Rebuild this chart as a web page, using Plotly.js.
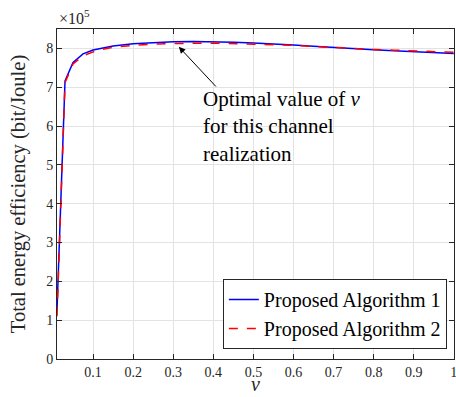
<!DOCTYPE html>
<html>
<head>
<meta charset="utf-8">
<script src="https://cdn.plot.ly/plotly-3.0.1.min.js"></script>
<style>html,body{margin:0;padding:0;background:#fff;}#chart{width:456px;height:397px;}</style>
</head>
<body>
<div id="chart"></div>
<script>
const nu = [0.01, 0.03, 0.05, 0.075, 0.1, 0.125, 0.15, 0.2, 0.25, 0.3, 0.35, 0.4, 0.45, 0.5, 0.55, 0.6, 0.65, 0.7, 0.75, 0.8, 0.85, 0.9, 0.95, 1.0];
const alg1 = [1.25e5, 7.16e5, 7.64e5, 7.86e5, 7.96e5, 8.02e5, 8.06e5, 8.12e5, 8.15e5, 8.17e5, 8.175e5, 8.17e5, 8.16e5, 8.14e5, 8.12e5, 8.09e5, 8.055e5, 8.02e5, 7.99e5, 7.965e5, 7.94e5, 7.92e5, 7.895e5, 7.87e5];
const alg2 = [1.1e5, 7.12e5, 7.6e5, 7.81e5, 7.91e5, 7.98e5, 8.03e5, 8.08e5, 8.11e5, 8.13e5, 8.135e5, 8.135e5, 8.125e5, 8.11e5, 8.1e5, 8.08e5, 8.05e5, 8.02e5, 7.995e5, 7.975e5, 7.955e5, 7.935e5, 7.915e5, 7.9e5];
const xTicks = [0.1, 0.2, 0.3, 0.4, 0.5, 0.6, 0.7, 0.8, 0.9, 1];
const xTickText = ["0.1", "0.2", "0.3", "0.4", "0.5", "0.6", "0.7", "0.8", "0.9", "1"];
const yTicks = [0, 1e5, 2e5, 3e5, 4e5, 5e5, 6e5, 7e5, 8e5];
const yTickText = ["0", "1", "2", "3", "4", "5", "6", "7", "8"];
const optNu = 0.314, optVal = 8.04e5;

const serif = "Liberation Serif";
const traces = [
  {x: nu, y: alg1, mode: "lines", name: "Proposed Algorithm 1", line: {color: "#0000ff", width: 1.5}},
  {x: nu, y: alg2, mode: "lines", name: "Proposed Algorithm 2", line: {color: "#ff0000", width: 1.5, dash: "dash"}}
];
const axisCommon = {
  showline: true, linecolor: "#262626", linewidth: 1, mirror: "ticks",
  ticks: "inside", ticklen: 5, tickcolor: "#262626",
  showgrid: true, gridcolor: "#e3e3e3", gridwidth: 1, zeroline: false,
  ticklabeloverflow: "allow",
  tickfont: {family: serif, size: 14, color: "#262626"}
};
const layout = {
  width: 456, height: 397,
  margin: {l: 57, r: 2, t: 29, b: 38},
  paper_bgcolor: "#fff", plot_bgcolor: "#fff",
  font: {family: serif},
  showlegend: true,
  legend: {x: 0.982, y: 0.03, xanchor: "right", yanchor: "bottom", bordercolor: "#262626", borderwidth: 1, bgcolor: "#fff",
    font: {family: serif, size: 20, color: "#000"}, tracegroupgap: 0, itemwidth: 30},
  xaxis: Object.assign({}, axisCommon, {range: [0.01, 1.0005], tickvals: xTicks, ticktext: xTickText}),
  yaxis: Object.assign({}, axisCommon, {range: [0, 8.5e5], tickvals: yTicks, ticktext: yTickText,
    title: {text: "Total energy efficiency (bit/Joule)", font: {family: serif, size: 20.5, color: "#262626"}, standoff: 15}}),
  annotations: [
    {x: optNu, y: optVal, xref: "x", yref: "y", ax: 0.41, ay: 6.98e5, axref: "x", ayref: "y",
     showarrow: true, arrowhead: 2, arrowsize: 1.3, arrowwidth: 1, arrowcolor: "#000", text: ""},
    {x: 0.37, y: 7.05e5, xref: "x", yref: "y", xanchor: "left", yanchor: "top", align: "left", showarrow: false,
     text: "Optimal value of <i>ν</i><br>for this channel<br>realization",
     font: {family: serif, size: 21, color: "#000"}},
    {x: 0, y: 1, xref: "paper", yref: "paper", xanchor: "left", yanchor: "bottom", showarrow: false,
     text: "×10<sup>5</sup>", font: {family: serif, size: 16, color: "#262626"}},
    {x: 0.5, y: 0, xref: "paper", yref: "paper", xanchor: "center", yanchor: "top", yshift: -12, showarrow: false,
     text: "<i>ν</i>", font: {family: serif, size: 20, color: "#262626"}}
  ]
};
Plotly.newPlot("chart", traces, layout, {staticPlot: true, displayModeBar: false});
</script>
</body>
</html>
